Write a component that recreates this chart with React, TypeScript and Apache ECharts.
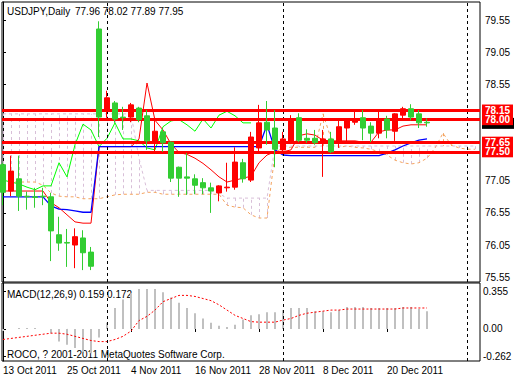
import React, { useEffect, useRef } from "react";
import * as echarts from "echarts";

// ---------- data ----------
const dates = [
  "13 Oct 2011", "14 Oct 2011", "17 Oct 2011", "18 Oct 2011", "19 Oct 2011", "20 Oct 2011", "21 Oct 2011",
  "24 Oct 2011", "25 Oct 2011", "26 Oct 2011", "27 Oct 2011", "28 Oct 2011", "31 Oct 2011",
  "1 Nov 2011", "2 Nov 2011", "3 Nov 2011", "4 Nov 2011", "7 Nov 2011", "8 Nov 2011", "9 Nov 2011",
  "10 Nov 2011", "11 Nov 2011", "14 Nov 2011", "15 Nov 2011", "16 Nov 2011", "17 Nov 2011", "18 Nov 2011",
  "21 Nov 2011", "22 Nov 2011", "23 Nov 2011", "24 Nov 2011", "25 Nov 2011", "28 Nov 2011", "29 Nov 2011",
  "30 Nov 2011", "1 Dec 2011", "2 Dec 2011", "5 Dec 2011", "6 Dec 2011", "7 Dec 2011", "8 Dec 2011",
  "9 Dec 2011", "12 Dec 2011", "13 Dec 2011", "14 Dec 2011", "15 Dec 2011", "16 Dec 2011", "19 Dec 2011",
  "20 Dec 2011", "21 Dec 2011", "22 Dec 2011", "23 Dec 2011", "26 Dec 2011", "27 Dec 2011",
];

const opens = [
  76.87, 77.2, 76.81, 76.8, 76.79, 76.8, 76.27, 76.08, 76.08, 76.18, 75.93, 75.72, 78.04, 78.34, 78.01,
  78.03, 78.23, 78.0, 77.67, 77.82, 77.64, 77.09, 77.09, 77.09, 76.98, 76.94, 76.89, 76.97, 76.95, 77.34,
  77.08, 77.73, 77.95, 77.84, 77.54, 77.7, 77.98, 77.68, 77.68, 77.64, 77.7, 77.5, 77.89, 77.98, 78.01,
  77.87, 77.79, 78.01, 77.84, 78.09, 78.17, 78.04, 77.95, 77.95,
];
const closes = [
  77.3, 76.89, 77.08, 76.81, 76.8, 76.81, 76.8, 76.21, 76.09, 76.05, 76.16, 75.94, 79.41, 78.15, 78.26,
  78.04, 78.04, 78.18, 78.06, 77.65, 77.81, 77.65, 77.26, 77.11, 77.08, 77.02, 76.94, 76.86, 76.94, 76.95,
  77.33, 77.06, 77.56, 77.96, 77.87, 77.53, 77.64, 78.03, 77.71, 77.71, 77.64, 77.7, 77.67, 77.87, 77.96,
  78.03, 77.9, 77.79, 78.01, 77.82, 78.07, 78.17, 78.09, 77.96,
];
const lows = [
  76.67, 76.81, 76.58, 76.6, 76.63, 76.67, 75.8, 75.96, 75.71, 75.69, 75.66, 75.66, 77.73, 78.03, 77.95,
  77.84, 77.96, 77.96, 77.53, 77.5, 77.5, 77.03, 76.8, 76.83, 76.84, 76.84, 76.55, 76.73, 76.88, 76.91,
  77.02, 77.03, 77.48, 77.61, 77.26, 77.48, 77.62, 77.65, 77.64, 77.61, 77.11, 77.48, 77.56, 77.65, 77.92,
  77.68, 77.65, 77.71, 77.71, 77.67, 77.99, 77.99, 77.87, 77.89,
];
const highs = [
  77.33, 77.44, 77.44, 76.88, 76.94, 76.94, 76.86, 76.49, 76.3, 76.31, 76.28, 76.02, 79.53, 78.45, 78.29,
  78.2, 78.26, 78.2, 78.15, 77.99, 77.87, 77.66, 77.27, 77.48, 77.15, 77.09, 77.02, 76.98, 77.33, 77.57,
  77.39, 77.81, 78.23, 78.29, 78.15, 77.81, 78.07, 78.1, 77.85, 77.84, 77.84, 77.81, 78.01, 77.99, 78.15,
  78.15, 77.96, 78.15, 78.06, 78.1, 78.2, 78.24, 78.15, 78.02,
];
const lastQuote = [77.96, 78.02, 77.89, 77.95];

const tenkan = [
  76.89, 76.89, 76.89, 76.89, 76.89, 76.89, 76.71, 76.63, 76.52, 76.41, 76.39, 76.39, 77.58, 77.58, 77.58,
  77.58, 77.58, 77.7, 78.57, 77.99, 77.84, 77.62, 77.49, 77.46, 77.4, 77.32, 77.22, 77.11, 77.03, 77.06,
  77.09, 77.12, 77.33, 77.45, 77.5, 77.5, 77.53, 77.75, 77.78, 77.76, 77.68, 77.67, 77.67, 77.67, 77.67,
  77.65, 77.65, 77.81, 77.84, 77.84, 77.9, 77.92, 77.92, 77.92,
];
const kijun = [
  76.8, 76.8, 76.8, 76.8, 76.8, 76.8, 76.66, 76.61, 76.6, 76.58, 76.56, 76.56, 77.58, 77.58, 77.58, 77.58,
  77.58, 77.58, 77.58, 77.58, 77.58, 77.58, 77.58, 77.58, 77.58, 77.58, 77.58, 77.58, 77.58, 77.58, 77.58,
  77.58, 77.58, 77.92, 77.53, 77.45, 77.44, 77.44, 77.44, 77.44, 77.44, 77.44, 77.44, 77.44, 77.44, 77.44,
  77.44, 77.44, 77.48, 77.53, 77.59, 77.64, 77.68, 77.7,
];
const chikou = [
  77.06, 77.03, 77.0, 76.95, 76.91, 76.97, 76.97, 77.33, 77.11, 77.61, 77.93, 77.84, 77.58, 77.71, 77.95,
  77.7, 77.7, 77.67, 77.56, 77.53, 77.89, 77.98, 78.0, 77.92, 77.82, 78.01, 77.87, 78.07, 78.13, 78.06,
  77.95, 77.95,
];
const spanA = [
  77.03, 77.03, 77.03, 77.03, 77.03, 76.98, 76.86, 76.81, 76.8, 76.8, 76.77, 76.77, 76.77, 76.8, 76.83,
  76.84, 76.84, 76.84, 76.87, 76.87, 76.84, 76.84, 76.84, 76.84, 76.84, 76.84, 76.84, 76.84, 76.67, 76.64,
  76.63, 76.52, 76.47, 76.47, 77.48, 77.57, 77.57, 77.57, 77.57, 77.57, 78.09, 77.71, 77.57, 77.59, 77.57,
  77.56, 77.54, 77.5, 77.45, 77.37, 77.33, 77.31, 77.33, 77.4, 77.56, 77.79, 77.61, 77.56, 77.54, 77.54,
];
const spanB = [
  78.09, 78.09, 78.09, 78.09, 78.09, 78.09, 78.09, 78.09, 78.09, 78.09, 78.09, 78.09, 78.09, 78.09, 78.09,
  78.09, 78.09, 77.4, 76.9, 76.9, 76.9, 76.9, 76.9, 76.9, 76.9, 76.9, 76.9, 76.85, 76.78, 76.78, 76.78,
  76.78, 76.78, 76.78, 77.59, 77.59, 77.59, 77.59, 77.59, 77.59, 77.59, 77.59, 77.59, 77.59, 77.59, 77.59,
  77.59, 77.59, 77.59, 77.59, 77.59, 77.59, 77.59, 77.59, 77.59, 77.59, 77.59, 77.59, 77.59, 77.59,
];
const macdHist = [
  -0.02, 0.0, 0.01, 0.01, 0.01, 0.0, -0.04, -0.12, -0.15, -0.18, -0.22, -0.23, -0.08, 0.06, 0.2, 0.28, 0.34,
  0.38, 0.38, 0.38, 0.35, 0.3, 0.25, 0.2, 0.15, 0.1, 0.06, 0.03, 0.02, 0.04, 0.09, 0.13, 0.14, 0.16, 0.16,
  0.18, 0.2, 0.2, 0.2, 0.17, 0.17, 0.16, 0.18, 0.21, 0.21, 0.21, 0.2, 0.2, 0.2, 0.2, 0.21, 0.21, 0.19, 0.17,
];
const macdSignal = [
  -0.1, -0.09, -0.08, -0.07, -0.06, -0.05, -0.04, -0.04, -0.05, -0.07, -0.09, -0.11, -0.12, -0.12, -0.1,
  -0.07, -0.02, 0.08, 0.12, 0.18, 0.26, 0.29, 0.32, 0.32, 0.31, 0.29, 0.27, 0.23, 0.18, 0.13, 0.1, 0.07,
  0.065, 0.065, 0.065, 0.085, 0.1, 0.13, 0.15, 0.16, 0.17, 0.18, 0.18, 0.19, 0.19, 0.19, 0.19, 0.19, 0.19,
  0.19, 0.2, 0.2, 0.2, 0.2,
];
const macdReadout = ["0.159", "0.172"];
const priceLevels = [78.15, 78.0, 77.65, 77.5];
const priceTicks = [79.55, 79.05, 78.55, 77.05, 76.55, 76.05, 75.55];
const macdTicks = [0.355, 0, -0.262];
const dateTicks = [0, 8, 16, 24, 32, 40, 48];
const separators = [13, 35, 58];

// ---------- styles ----------
const GREEN = "#32cd32";
const LIME = "#00ff00";
const RED = "#ff0000";
const BLUE = "#0000ff";
const SANDY = "#f4a460";
const THISTLE = "#d8bfd8";
const SILVER = "#c0c0c0";
const FONT = "Liberation Sans";

export default function App() {
  const ref = useRef<HTMLDivElement>(null);
  useEffect(() => {
    if (!ref.current) return;
    const chart = echarts.init(ref.current, undefined, { renderer: "svg" });
    const xMin = -0.125;
    const xMax = 59.625;

    const candles = opens.map((o, i) => [i, o, closes[i], lows[i], highs[i]]);
    const cloud = spanA.map((a, i) => [i, a, spanB[i]]);
    const sepLine = {
      silent: true,
      symbol: ["none", "none"],
      label: { show: false },
      lineStyle: { color: "#000", width: 1, type: [3, 3] as any },
      data: separators.map((s) => ({ xAxis: s })),
    };

    const texts: any[] = [
      {
        type: "text",
        left: 7,
        top: 6,
        style: { text: "USDJPY,Daily", fill: "#000", fontSize: 10, fontFamily: FONT },
      },
      {
        type: "text",
        left: 75,
        top: 6,
        style: { text: lastQuote.map((v) => v.toFixed(2)).join(" "), fill: "#000", fontSize: 10, fontFamily: FONT },
      },
      {
        type: "text",
        left: 7,
        top: 289,
        style: {
          text: `MACD(12,26,9) ${macdReadout.join(" ")}`,
          fill: "#000",
          fontSize: 10,
          fontFamily: FONT,
        },
      },
      {
        type: "text",
        left: 7,
        top: 349,
        style: { text: "ROCO, ? 2001-2011 MetaQuotes Software Corp.", fill: "#000", fontSize: 10, fontFamily: FONT },
      },
    ];

    const option: any = {
      animation: false,
      backgroundColor: "#fff",
      textStyle: { fontFamily: FONT },
      grid: [
        { left: 2, top: 2, width: 478, height: 280, show: true, borderColor: "#000", borderWidth: 1 },
        { left: 2, top: 283, width: 478, height: 78, show: true, borderColor: "#000", borderWidth: 1 },
      ],
      xAxis: [
        { type: "value", gridIndex: 0, min: xMin, max: xMax, show: false, splitLine: { show: false } },
        {
          type: "value",
          gridIndex: 1,
          min: xMin,
          max: xMax,
          splitLine: { show: false },
          axisLine: { show: false },
          axisTick: { show: true, length: 3, customValues: dateTicks, lineStyle: { color: "#000" } },
          axisLabel: {
            customValues: dateTicks,
            formatter: (v: number) => dates[Math.round(v)] || "",
            align: "left",
            margin: 4,
            color: "#000",
            fontSize: 10,
            fontFamily: FONT,
          },
        },
      ],
      yAxis: [
        {
          type: "value",
          gridIndex: 0,
          position: "right",
          min: 75.475,
          max: 79.83,
          splitLine: { show: false },
          axisLine: { show: true, lineStyle: { color: "#000" } },
          axisTick: { show: true, length: 3, customValues: priceTicks, lineStyle: { color: "#000" } },
          axisLabel: {
            customValues: priceTicks,
            formatter: (v: number) => v.toFixed(2),
            margin: 5,
            color: "#000",
            fontSize: 10,
            fontFamily: FONT,
          },
        },
        {
          type: "value",
          gridIndex: 1,
          position: "right",
          min: -0.305,
          max: 0.438,
          splitLine: { show: false },
          axisLine: { show: true, lineStyle: { color: "#000" } },
          axisTick: { show: true, length: 3, customValues: macdTicks, lineStyle: { color: "#000" } },
          axisLabel: {
            customValues: macdTicks,
            formatter: (v: number) => (v === 0 ? "0.00" : String(v)),
            margin: 3,
            color: "#000",
            fontSize: 10,
            fontFamily: FONT,
          },
        },
      ],
      series: [
        { type: "line", name: "sep0", xAxisIndex: 0, yAxisIndex: 0, data: [], z: 0, markLine: sepLine },
        { type: "line", name: "sep1", xAxisIndex: 1, yAxisIndex: 1, data: [], z: 0, markLine: sepLine },
        {
          type: "custom",
          name: "cloud",
          xAxisIndex: 0,
          yAxisIndex: 0,
          data: cloud,
          encode: { x: 0, y: [1, 2] },
          z: 1,
          clip: true,
          renderItem: (params: any, api: any) => {
            const i = api.value(0);
            const a = api.value(1);
            const b = api.value(2);
            const p1 = api.coord([i, a]);
            const p2 = api.coord([i, b]);
            const x = Math.round(p1[0]) + 0.5;
            return {
              type: "line",
              shape: { x1: x, y1: p1[1], x2: x, y2: p2[1] },
              style: { stroke: a > b ? SANDY : THISTLE, lineWidth: 1, lineDash: [3, 3] },
            };
          },
        },
        {
          type: "line",
          name: "spanA",
          xAxisIndex: 0,
          yAxisIndex: 0,
          data: spanA.map((v, i) => [i, v]),
          symbol: "none",
          z: 1,
          lineStyle: { color: SANDY, width: 1, type: [3, 3] },
        },
        {
          type: "line",
          name: "spanB",
          xAxisIndex: 0,
          yAxisIndex: 0,
          data: spanB.map((v, i) => [i, v]),
          symbol: "none",
          z: 1,
          lineStyle: { color: THISTLE, width: 1, type: [3, 3] },
        },
        {
          type: "line",
          name: "chikou",
          xAxisIndex: 0,
          yAxisIndex: 0,
          data: chikou.map((v, i) => [i, v]),
          symbol: "none",
          z: 3,
          lineStyle: { color: LIME, width: 1 },
        },
        {
          type: "line",
          name: "tenkan",
          xAxisIndex: 0,
          yAxisIndex: 0,
          data: tenkan.map((v, i) => [i, v]),
          symbol: "none",
          z: 3,
          lineStyle: { color: RED, width: 1 },
        },
        {
          type: "line",
          name: "kijun",
          xAxisIndex: 0,
          yAxisIndex: 0,
          data: kijun.map((v, i) => [i, v]),
          symbol: "none",
          z: 3,
          lineStyle: { color: BLUE, width: 1.3 },
        },
        {
          type: "line",
          name: "levels",
          xAxisIndex: 0,
          yAxisIndex: 0,
          data: [],
          z: 4,
          clip: false,
          markLine: {
            silent: true,
            symbol: ["none", "none"],
            lineStyle: { color: RED, width: 3, type: "solid" },
            label: {
              show: true,
              position: "end",
              distance: 2,
              formatter: (p: any) => Number(p.value).toFixed(2),
              color: "#fff",
              backgroundColor: RED,
              padding: [1, 3, 0, 3],
              fontSize: 10,
              fontWeight: "bold",
              fontFamily: FONT,
            },
            data: priceLevels.map((v) => ({ yAxis: v })),
          },
        },
        {
          type: "candlestick",
          name: "USDJPY",
          xAxisIndex: 0,
          yAxisIndex: 0,
          data: candles,
          encode: { x: 0, y: [1, 2, 3, 4] },
          barWidth: 5,
          z: 5,
          itemStyle: {
            color: GREEN,
            color0: RED,
            borderColor: GREEN,
            borderColor0: RED,
            borderWidth: 1,
          },
        },
        {
          type: "bar",
          name: "MACD",
          xAxisIndex: 1,
          yAxisIndex: 1,
          data: macdHist.map((v, i) => [i, v]),
          barWidth: 2,
          z: 2,
          itemStyle: { color: SILVER },
        },
        {
          type: "line",
          name: "Signal",
          xAxisIndex: 1,
          yAxisIndex: 1,
          data: macdSignal.map((v, i) => [i, v]),
          symbol: "none",
          z: 3,
          lineStyle: { color: RED, width: 1, type: [2, 2] },
        },
      ],
      graphic: texts,
    };
    chart.setOption(option);

    // current bid marker box, mostly hidden behind the 78.00 level tag (as in MT4)
    const bidY = chart.convertToPixel({ yAxisIndex: 0 }, lastQuote[3]) as number;
    const edgeX = chart.convertToPixel({ xAxisIndex: 0 }, xMax) as number;
    chart.setOption({
      graphic: [
        ...texts,
        {
          type: "rect",
          z: 1,
          shape: { x: edgeX + 2, y: bidY - 5, width: 32, height: 11 },
          style: { fill: "#000" },
        },
      ],
    });
    return () => chart.dispose();
  }, []);
  return <div ref={ref} style={{ position: "absolute", left: 0, top: 0, width: 520, height: 380 }} />;
}
